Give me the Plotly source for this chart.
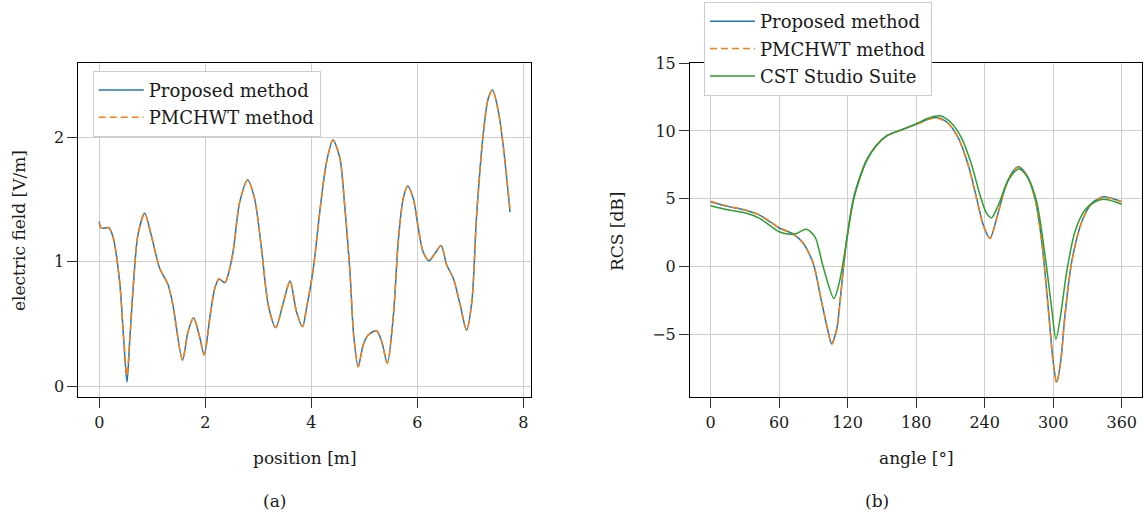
import plotly.graph_objects as go

# ---------------- data: (a) electric field vs position ----------------
position_m = [0, 0.04, 0.18, 0.26, 0.385, 0.46, 0.524, 0.574, 0.64, 0.73, 0.857, 0.98,
              1.14, 1.30, 1.39, 1.57, 1.675, 1.78, 1.90, 1.98, 2.085, 2.18, 2.26, 2.37,
              2.43, 2.525, 2.65, 2.80, 2.93, 3.06, 3.19, 3.33, 3.47, 3.60, 3.72, 3.835,
              3.91, 4.04, 4.16, 4.29, 4.41, 4.54, 4.63, 4.73, 4.80, 4.886, 4.98, 5.075,
              5.23, 5.33, 5.435, 5.55, 5.64, 5.735, 5.82, 5.925, 6.02, 6.11, 6.22, 6.335,
              6.45, 6.555, 6.68, 6.81, 6.93, 7.03, 7.12, 7.25, 7.34, 7.42, 7.53, 7.62, 7.75]
field_proposed = [1.323, 1.27, 1.275, 1.20, 0.84, 0.384, 0.03, 0.357, 0.79, 1.216, 1.39, 1.216,
                  0.948, 0.813, 0.652, 0.209, 0.437, 0.55, 0.384, 0.25, 0.545, 0.787, 0.862, 0.832,
                  0.894, 1.08, 1.48, 1.659, 1.51, 1.11, 0.65, 0.47, 0.666, 0.845, 0.60, 0.478,
                  0.625, 0.948, 1.40, 1.806, 1.98, 1.833, 1.457, 0.92, 0.41, 0.155, 0.33, 0.41,
                  0.445, 0.357, 0.183, 0.572, 1.16, 1.51, 1.61, 1.51, 1.27, 1.08, 1.009, 1.068,
                  1.13, 0.974, 0.867, 0.652, 0.45, 0.679, 1.377, 2.05, 2.316, 2.383, 2.21, 1.94, 1.40]
field_pmchwt = [1.31, 1.27, 1.275, 1.20, 0.84, 0.39, 0.08, 0.36, 0.79, 1.216, 1.39, 1.216,
                0.948, 0.813, 0.652, 0.209, 0.437, 0.55, 0.384, 0.25, 0.545, 0.787, 0.862, 0.832,
                0.894, 1.08, 1.48, 1.659, 1.51, 1.11, 0.65, 0.47, 0.666, 0.845, 0.60, 0.478,
                0.625, 0.948, 1.40, 1.806, 1.98, 1.833, 1.457, 0.92, 0.41, 0.155, 0.33, 0.41,
                0.445, 0.357, 0.183, 0.572, 1.16, 1.51, 1.61, 1.51, 1.27, 1.08, 1.009, 1.068,
                1.13, 0.974, 0.867, 0.652, 0.45, 0.679, 1.377, 2.05, 2.316, 2.383, 2.21, 1.94, 1.42]

# ---------------- data: (b) RCS vs angle ----------------
angle_deg = [0, 15, 31.5, 43, 52, 60, 72, 81, 90, 97, 103, 106, 110.4, 113.3, 116.4, 120,
             125, 130.8, 136.6, 145.4, 154.2, 168.7, 183.3, 189, 198, 208, 217, 225.6, 233, 238.8,
             244.6, 250.5, 257.8, 263.6, 269.4, 276.8, 284, 290, 295.7, 300, 303, 306.5,
             310.3, 316.2, 325, 333.7, 343.9, 351.2, 360]
rcs_proposed = [4.79, 4.45, 4.15, 3.8, 3.32, 2.86, 2.43, 1.75, 0.2, -2.5, -4.79, -5.65, -4.6,
                -2.6, 0.0, 2.5, 5.0, 6.64, 7.87, 8.97, 9.64, 10.13, 10.6, 10.82, 10.99, 10.57,
                9.47, 7.5, 5.04, 3.07, 2.09, 3.57, 5.78, 6.89, 7.37, 6.76, 5.04, 1.84, -3.07,
                -7.0, -8.48, -7.0, -3.56, 0.37, 3.32, 4.67, 5.16, 5.04, 4.79]
rcs_pmchwt = [4.82, 4.47, 4.17, 3.82, 3.34, 2.88, 2.45, 1.78, 0.25, -2.45, -4.8, -5.72, -4.65,
              -2.65, -0.05, 2.45, 4.95, 6.6, 7.85, 8.96, 9.64, 10.13, 10.58, 10.8, 10.96, 10.55,
              9.45, 7.45, 5.0, 3.05, 2.08, 3.55, 5.76, 6.87, 7.33, 6.74, 5.02, 1.8, -3.1,
              -7.05, -8.55, -7.05, -3.6, 0.33, 3.3, 4.65, 5.12, 5.02, 4.8]
angle_cst = [0, 15, 31.5, 43, 60, 69.5, 75.3, 84, 91.4, 98.6, 108, 112, 115.8, 120, 125,
             130.8, 136.6, 145.4, 154.2, 168.7, 183.3, 190.6, 200.8, 211, 219.8, 228.6, 235.9, 241.7,
             246, 252, 260.7, 270, 278, 285.5, 292.8, 298.7, 302.4, 306.5, 311.8, 319,
             327.8, 336.6, 343.9, 354, 360]
rcs_cst = [4.5, 4.2, 3.94, 3.57, 2.58, 2.39, 2.46, 2.76, 2.21, 0.0, -2.33, -1.4, 0.2, 2.4,
           4.85, 6.55, 7.8, 8.95, 9.64, 10.13, 10.65, 10.94, 11.11, 10.57, 9.47, 7.5, 5.29, 3.93,
           3.62, 4.55, 6.39, 7.2, 6.52, 4.79, 0.86, -3.07, -5.33, -3.56, -0.37, 2.58, 4.18,
           4.79, 4.97, 4.79, 4.6]

xticks_a = [0, 2, 4, 6, 8]
yticks_a = [0, 1, 2]
xticks_b = [0, 60, 120, 180, 240, 300, 360]
yticks_b = [-5, 0, 5, 10, 15]

BLUE, ORANGE, GREEN = "#1f77b4", "#ff7f0e", "#2ca02c"
FONT = "DejaVu Serif"
W, H = 1145, 520

fig = go.Figure()
fig.add_trace(go.Scatter(x=position_m, y=field_proposed, mode="lines", name="Proposed method",
                         line=dict(color=BLUE, width=1.5, shape="spline", smoothing=0.8),
                         xaxis="x", yaxis="y", legend="legend", legendgroup="a1"))
fig.add_trace(go.Scatter(x=position_m, y=field_pmchwt, mode="lines", name="PMCHWT method",
                         line=dict(color=ORANGE, width=1.5, dash="7px,4px", shape="spline", smoothing=0.8),
                         xaxis="x", yaxis="y", legend="legend", legendgroup="a2"))
fig.add_trace(go.Scatter(x=angle_deg, y=rcs_proposed, mode="lines", name="Proposed method",
                         line=dict(color=BLUE, width=1.5, shape="spline", smoothing=0.8),
                         xaxis="x2", yaxis="y2", legend="legend2", legendgroup="b1"))
fig.add_trace(go.Scatter(x=angle_deg, y=rcs_pmchwt, mode="lines", name="PMCHWT method",
                         line=dict(color=ORANGE, width=1.5, dash="7px,4px", shape="spline", smoothing=0.8),
                         xaxis="x2", yaxis="y2", legend="legend2", legendgroup="b2"))
fig.add_trace(go.Scatter(x=angle_cst, y=rcs_cst, mode="lines", name="CST Studio Suite",
                         line=dict(color=GREEN, width=1.5, shape="spline", smoothing=0.8),
                         xaxis="x2", yaxis="y2", legend="legend2", legendgroup="b3"))

ax_common = dict(showline=True, linecolor="black", linewidth=1, mirror=True,
                 ticks="outside", ticklen=10, tickcolor="#333333", tickwidth=1,
                 showgrid=True, gridcolor="#cfcfcf", gridwidth=1, zeroline=False,
                 tickfont=dict(family=FONT, size=16, color="#1a1a1a"), automargin=False)

ydom = [1 - 397.3 / H, 1 - 63.0 / H]
legend_common = dict(xanchor="left", yanchor="top", bgcolor="white", bordercolor="#cccccc",
                     borderwidth=1, font=dict(family=FONT, size=18, color="#1a1a1a"),
                     traceorder="grouped", tracegroupgap=1, itemwidth=45)
fig.update_layout(
    width=W, height=H, margin=dict(l=0, r=0, t=0, b=0),
    paper_bgcolor="white", plot_bgcolor="white",
    font=dict(family=FONT, size=17, color="#1a1a1a"),
    xaxis=dict(domain=[78.3 / W, 530.7 / W], range=[-0.395, 8.14], tickvals=xticks_a,
               anchor="y", **ax_common),
    yaxis=dict(domain=ydom, range=[-0.091, 2.6], tickvals=yticks_a, anchor="x", **ax_common),
    xaxis2=dict(domain=[690.0 / W, 1142.3 / W], range=[-18, 378], tickvals=xticks_b,
                anchor="y2", **ax_common),
    yaxis2=dict(domain=ydom, range=[-9.6, 15.0], tickvals=yticks_b, anchor="x2", **ax_common),
    legend=dict(x=92.7 / W, y=1 - 70.7 / H, **legend_common),
    legend2=dict(x=704 / W, y=1 - 2.0 / H, **legend_common),
    showlegend=True,
)

annos = [
    dict(text="position [m]", x=304.5 / W, y=1 - 458 / H),
    dict(text="angle [°]", x=916.2 / W, y=1 - 458 / H),
    dict(text="(a)", x=274 / W, y=1 - 501 / H),
    dict(text="(b)", x=876.7 / W, y=1 - 501 / H),
    dict(text="electric field [V/m]", x=19 / W, y=1 - 231 / H, textangle=-90),
    dict(text="RCS [dB]", x=617 / W, y=1 - 231 / H, textangle=-90),
]
for a in annos:
    fig.add_annotation(xref="paper", yref="paper", showarrow=False, xanchor="center",
                       yanchor="middle", font=dict(family=FONT, size=17, color="#1a1a1a"), **a)

fig.write_html("out.html")
